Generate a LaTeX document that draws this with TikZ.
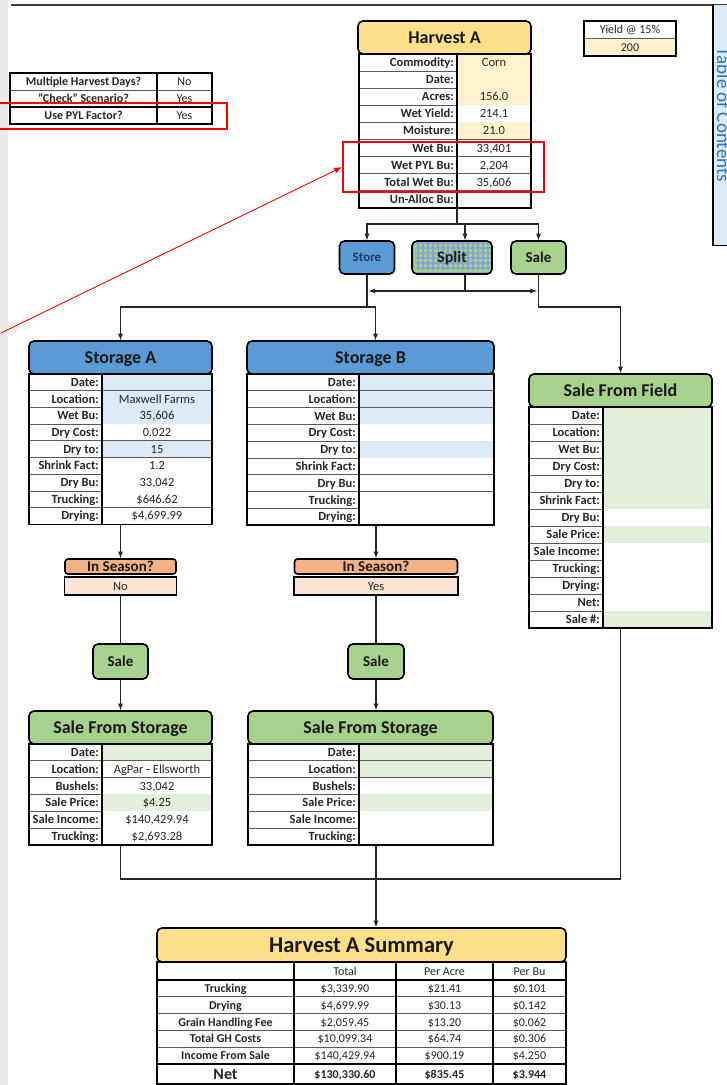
\documentclass[tikz,border=0pt]{standalone}
\usepackage{fontspec}
\setmainfont{Carlito}
\usepackage{tikz}
\usetikzlibrary{positioning,arrows.meta}

\definecolor{hdrgold}{HTML}{FFE08A}
\definecolor{ycell}{HTML}{FFF2CC}
\definecolor{hdrblue}{HTML}{5B9BD5}
\definecolor{bcell}{HTML}{DDEBF7}
\definecolor{hdrgreen}{HTML}{A9D18E}
\definecolor{gcell}{HTML}{E2EFDA}
\definecolor{hdrorange}{HTML}{F4B183}
\definecolor{ocell}{HTML}{FBE5D6}
\definecolor{plaidblue}{HTML}{7F9FDB}
\definecolor{tocblue}{HTML}{2E75B6}
\definecolor{storetxt}{HTML}{1F3864}

% form table: name, left, top, divider, right, row height, rows, label/value/fill list
\newcommand{\formtab}[8]{%
  \foreach \lbl/\vl/\cf [count=\i] in {#8} {
    \fill[\cf] (#4,{#3+(\i-1)*#6}) rectangle (#5,{#3+\i*#6});
    \node[lab, anchor=east] at ({#4-3},{#3+(\i-0.5)*#6}) {\lbl};
    \node[val] at ({(#4+#5)/2},{#3+(\i-0.5)*#6}) {\vl};
    \draw[rowline] (#2,{#3+\i*#6}) -- (#5,{#3+\i*#6});
  }
  \draw[frameline] (#4,#3) -- (#4,{#3+#6*#7});
  \node[tabframe, minimum width={#5-#2}, minimum height={#6*#7}] (#1) at ({(#2+#5)/2},{#3+#6*#7/2}) {};
}

\begin{document}
\begin{tikzpicture}[x=1pt, y=-1pt,
  tabtxt/.style={inner sep=0pt, text=black!85, text height=8pt, text depth=0pt, font=\fontsize{12.5}{14}\selectfont},
  lab/.style={tabtxt, font=\fontsize{12.5}{14}\selectfont\bfseries},
  val/.style={tabtxt},
  hdr/.style={draw, line width=1.6pt, rounded corners=5pt, inner sep=0pt, text=black!90, text height=11.5pt, text depth=0pt, font=\fontsize{18}{20}\selectfont\bfseries},
  btn/.style={hdr, text height=9.5pt, font=\fontsize{15}{17}\selectfont\bfseries},
  rowline/.style={line width=0.8pt, black!65},
  frameline/.style={line width=1.6pt},
  tabframe/.style={draw, line width=1.6pt, inner sep=0pt},
  wire/.style={line width=1.3pt, black!85},
  arr/.style={wire, ->, >=latex},
  hl/.style={draw=red, line width=1.8pt, inner sep=0pt},
  plaid/.style={fill=plaidblue, opacity=0.75}]
\useasboundingbox (0,0) rectangle (727,1085);

% page edges
\fill[black!8] (0,0) rectangle (8,1085);
\draw[line width=2.5pt, black!75] (11,5) -- (727,5);
\node[fill=bcell, inner sep=0pt, minimum width=16, minimum height=240, anchor=north west] (toc) at (713,5) {};
\draw[line width=1.4pt] (toc.north west) -- (toc.south west) -- (toc.south east);
\node[rotate=-90, anchor=base, text=tocblue, font=\fontsize{19}{21}\selectfont] (toctxt) at (717,115) {Table of Contents};

% settings
\foreach \lbl/\vl [count=\i] in {Multiple Harvest Days?/No, "Check" Scenario?/Yes, Use PYL Factor?/Yes} {
  \node[lab, font=\fontsize{12}{14}\selectfont\bfseries] at (83.5,{73+(\i-0.5)*17}) {\lbl};
  \node[val, font=\fontsize{12}{14}\selectfont] at (184.5,{73+(\i-0.5)*17}) {\vl};
}
\draw[rowline] (10,90) -- (212,90);
\draw[frameline] (10,107) -- (212,107);
\draw[frameline] (157,73) -- (157,124);
\node[tabframe, minimum width=202, minimum height=51] (settab) at (111,98.5) {};

% yield
\fill[ycell] (584,38.5) rectangle (676,56);
\node[val, font=\fontsize{12}{14}\selectfont] at (630,29.75) {Yield @ 15\%};
\node[val, font=\fontsize{12}{14}\selectfont] at (630,47.25) {200};
\draw[rowline] (584,38.5) -- (676,38.5);
\node[tabframe, minimum width=92, minimum height=35] (yieldtab) at (630,38.5) {};

% harvest
\node[hdr, fill=hdrgold, minimum width=173, minimum height=33] (harvhd) at (444.5,37.5) {Harvest A};
\formtab{harvtab}{359}{54}{457}{531}{17.1}{9}{Commodity:/Corn/ycell, Date:/{}/ycell, Acres:/156.0/ycell, Wet Yield:/214.1/white, Moisture:/21.0/ycell, Wet Bu:/{33,401}/white, Wet PYL Bu:/{2,204}/white, Total Wet Bu:/{35,606}/white, Un-Alloc Bu:/{}/white}

% choice buttons
\node[btn, fill=hdrblue, minimum width=55, minimum height=33, text=storetxt, text height=8.5pt, font=\fontsize{13}{15}\selectfont\bfseries] (store) at (367,257.5) {Store};
\node[btn, fill=hdrgreen, minimum width=80, minimum height=33, text height=10pt, font=\fontsize{16}{18}\selectfont\bfseries,
  path picture={\foreach \k in {0,...,17} {
    \fill[plaid] ([xshift=\k*5pt]path picture bounding box.south west) rectangle ++(2pt,40pt);
    \fill[plaid] ([yshift=\k*5pt]path picture bounding box.south west) rectangle ++(90pt,2pt);}}] (split) at (452,257.5) {Split};
\node[btn, fill=hdrgreen, minimum width=55, minimum height=33] (sale) at (538.5,257.5) {Sale};

\coordinate (hbus) at (457,224);
\draw[wire] (hbus |- harvtab.south) -- (hbus);
\draw[arr] (hbus) -| (store.north);
\draw[arr] (hbus) -| ([xshift=13pt]split.north);
\draw[arr] (hbus) -| (sale.north);
\coordinate (sbus) at (465,291);
\draw[wire] ([xshift=13pt]split.south) -- (sbus);
\draw[arr, <->, shorten <=1.5pt, shorten >=1.5pt] (store.south |- sbus) -- (sale.south |- sbus);

% storage
\node[hdr, fill=hdrblue, minimum width=183, minimum height=33] (stAhd) at (120.5,357.5) {Storage A};
\formtab{stAtab}{29}{374}{102}{212}{16.7}{9}{Date:/{}/bcell, Location:/Maxwell Farms/bcell, Wet Bu:/{35,606}/bcell, Dry Cost:/0.022/white, Dry to:/15/bcell, Shrink Fact:/1.2/white, Dry Bu:/{33,042}/white, Trucking:/\$646.62/white, Drying:/{\$4,699.99}/white}
\node[hdr, fill=hdrblue, minimum width=247, minimum height=33] (stBhd) at (370.5,357.5) {Storage B};
\formtab{stBtab}{247}{374}{359}{494}{16.8}{9}{Date:/{}/bcell, Location:/{}/bcell, Wet Bu:/{}/bcell, Dry Cost:/{}/white, Dry to:/{}/bcell, Shrink Fact:/{}/white, Dry Bu:/{}/white, Trucking:/{}/white, Drying:/{}/white}

\coordinate (stbus) at (367,307);
\draw[wire] (store.south) -- (stbus);
\draw[arr] (stbus) -| (stAhd.north);
\draw[arr] (stbus) -| ([xshift=5pt]stBhd.north);

% sale from field
\node[hdr, fill=hdrgreen, minimum width=183, minimum height=33] (sfhd) at (620.5,390.5) {Sale From Field};
\formtab{sftab}{529}{407}{603}{712}{17}{13}{Date:/{}/gcell, Location:/{}/gcell, Wet Bu:/{}/gcell, Dry Cost:/{}/gcell, Dry to:/{}/gcell, Shrink Fact:/{}/gcell, Dry Bu:/{}/white, Sale Price:/{}/gcell, Sale Income:/{}/white, Trucking:/{}/white, Drying:/{}/white, Net:/{}/white, Sale \#:/{}/gcell}
\coordinate (slbus) at (538.5,307);
\draw[arr] (sale.south) -- (slbus) -| (sfhd.north);

% in season
\node[btn, fill=hdrorange, rounded corners=3pt, minimum width=111, minimum height=15] (seasAhd) at (120.5,566.5) {In Season?};
\node[tabframe, val, fill=ocell, minimum width=112, minimum height=18] (seasAv) at (120.5,586) {No};
\node[btn, fill=hdrorange, rounded corners=3pt, minimum width=163, minimum height=15] (seasBhd) at (376,566.5) {In Season?};
\node[tabframe, val, fill=ocell, minimum width=164, minimum height=18] (seasBv) at (376,586) {Yes};
\draw[arr] (stAtab.south) -- (seasAhd.north);
\draw[arr] (seasBhd.north |- stBtab.south) -- (seasBhd.north);

\node[btn, fill=hdrgreen, minimum width=55, minimum height=35] (saleA) at (120.5,661.5) {Sale};
\node[btn, fill=hdrgreen, minimum width=56, minimum height=35] (saleB) at (376,661.5) {Sale};
\draw[wire] (seasAv.south) -- (saleA.north);
\draw[wire] (seasBv.south) -- (saleB.north);

% sale from storage
\node[hdr, fill=hdrgreen, minimum width=183, minimum height=33] (sfsAhd) at (120.5,727.5) {Sale From Storage};
\formtab{sfsAtab}{29}{744}{102}{212}{16.8}{6}{Date:/{}/gcell, Location:/AgPar - Ellsworth/white, Bushels:/{33,042}/white, Sale Price:/\$4.25/gcell, Sale Income:/{\$140,429.94}/white, Trucking:/{\$2,693.28}/white}
\node[hdr, fill=hdrgreen, minimum width=245, minimum height=33] (sfsBhd) at (370.5,727.5) {Sale From Storage};
\formtab{sfsBtab}{248}{744}{359}{493}{16.8}{6}{Date:/{}/gcell, Location:/{}/gcell, Bushels:/{}/white, Sale Price:/{}/gcell, Sale Income:/{}/white, Trucking:/{}/white}
\draw[arr] (saleA.south) -- (sfsAhd.north);
\draw[arr] (saleB.south) -- (saleB.south |- sfsBhd.north);

% summary
\node[hdr, fill=hdrgold, minimum width=409, minimum height=34, text height=14.5pt, font=\fontsize{22.5}{24}\selectfont\bfseries] (sumhd) at (361.5,945) {Harvest A Summary};
\coordinate (sumbus) at (376,879);
\draw[wire] (sfsAtab.south) |- (sumbus);
\draw[wire] (sftab.south) |- (sumbus);
\draw[arr] (sumbus |- sfsBtab.south) -- (sumbus |- sumhd.north);

\node[val, font=\fontsize{12}{14}\selectfont] at (345,971) {Total};
\node[val, font=\fontsize{12}{14}\selectfont] at (444.5,971) {Per Acre};
\node[val, font=\fontsize{12}{14}\selectfont] at (529.5,971) {Per Bu};
\foreach \lbl/\tot/\pa/\pb [count=\i] in {Trucking/{\$3,339.90}/\$21.41/\$0.101, Drying/{\$4,699.99}/\$30.13/\$0.142, Grain Handling Fee/{\$2,059.45}/\$13.20/\$0.062, Total GH Costs/{\$10,099.34}/\$64.74/\$0.306, Income From Sale/{\$140,429.94}/\$900.19/\$4.250} {
  \node[lab, font=\fontsize{12}{14}\selectfont\bfseries] at (225.5,{980+(\i-0.5)*16.8}) {\lbl};
  \node[val, font=\fontsize{12}{14}\selectfont] at (345,{980+(\i-0.5)*16.8}) {\tot};
  \node[val, font=\fontsize{12}{14}\selectfont] at (444.5,{980+(\i-0.5)*16.8}) {\pa};
  \node[val, font=\fontsize{12}{14}\selectfont] at (529.5,{980+(\i-0.5)*16.8}) {\pb};
}
\node[lab, text height=10pt, font=\fontsize{16}{18}\selectfont\bfseries] at (225.5,1074) {Net};
\node[lab, font=\fontsize{12}{14}\selectfont\bfseries] at (345,1074) {\$130,330.60};
\node[lab, font=\fontsize{12}{14}\selectfont\bfseries] at (444.5,1074) {\$835.45};
\node[lab, font=\fontsize{12}{14}\selectfont\bfseries] at (529.5,1074) {\$3.944};
\foreach \yy in {996.8,1013.6,1030.4,1047.2} \draw[rowline] (157,\yy) -- (566,\yy);
\draw[frameline] (157,980) -- (566,980);
\draw[frameline] (157,1064) -- (566,1064);
\foreach \xx in {294,396,493} \draw[frameline] (\xx,962) -- (\xx,1084);
\node[tabframe, minimum width=409, minimum height=122] (sumtab) at (361.5,1023) {};

% highlights
\node[hl, minimum width=232, minimum height=26] (pylbox) at (111,116) {};
\node[hl, minimum width=201, minimum height=50] (wetbox) at (443.5,167) {};
\coordinate (pylend) at (1,333);
\draw[red, line width=0.9pt, -{Latex[length=8pt,width=6pt]}] (pylend) -- (wetbox.west);
\end{tikzpicture}
\end{document}
